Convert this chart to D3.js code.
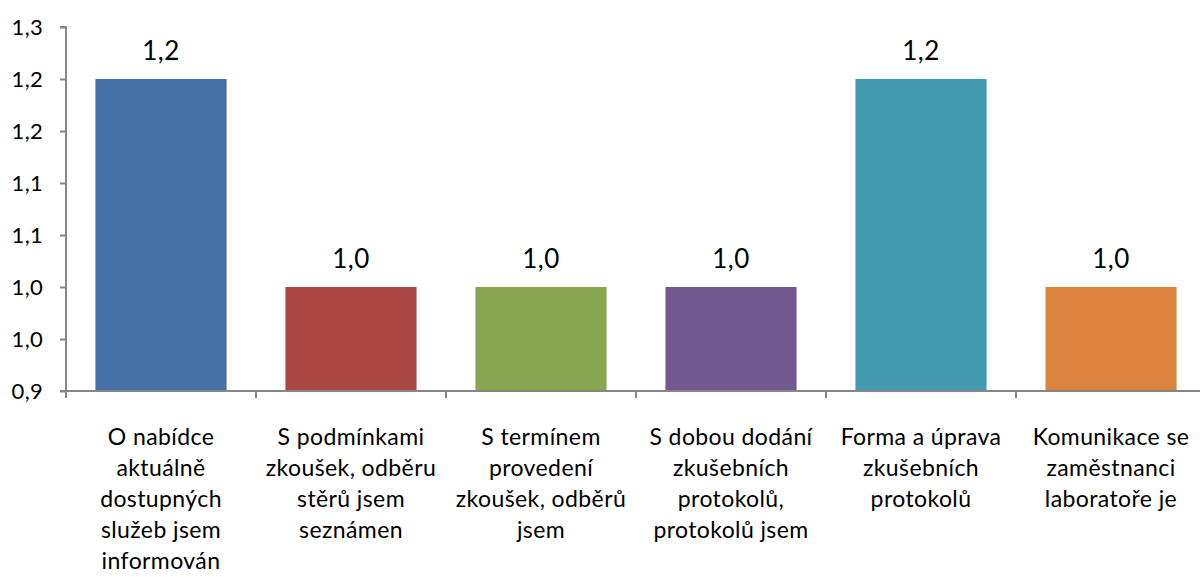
<!DOCTYPE html>
<html>
<head>
<meta charset="utf-8">
<script src="https://cdn.jsdelivr.net/npm/d3@7"></script>
<style>
  body { margin: 0; background: #fff; }
  svg text { font-family: Lato, "Open Sans", sans-serif; fill: #000; }
</style>
</head>
<body>
<div id="chart"></div>
<script>
const width = 1200;
const height = 577;

// data
const categories = [
    ["O nabídce", "aktuálně", "dostupných", "služeb jsem", "informován"],
    ["S podmínkami", "zkoušek, odběru", "stěrů jsem", "seznámen"],
    ["S termínem", "provedení", "zkoušek, odběrů", "jsem"],
    ["S dobou dodání", "zkušebních", "protokolů,", "protokolů jsem"],
    ["Forma a úprava", "zkušebních", "protokolů"],
    ["Komunikace se", "zaměstnanci", "laboratoře je"]
];
const values = [1.2, 1.0, 1.0, 1.0, 1.2, 1.0];
const valueLabels = ["1,2", "1,0", "1,0", "1,0", "1,2", "1,0"];
const colors = ["#4671a6", "#a84744", "#88a54f", "#71598f", "#4299b0", "#db843d"];
const yTicks = [0.9, 0.95, 1.0, 1.05, 1.1, 1.15, 1.2, 1.25];
const yTickLabels = ["0,9", "1,0", "1,0", "1,1", "1,1", "1,2", "1,2", "1,3"];

const svg = d3.select("#chart")
    .append("svg")
    .attr("width", width)
    .attr("height", height);

const x = d3.scaleBand()
    .domain(d3.range(categories.length))
    .range([66, 1206])
    .paddingInner(0.31)
    .paddingOuter(0.155);

const y = d3.scaleLinear()
    .domain([0.9, 1.25])
    .range([391, 27]);

// bars
svg.append("g")
    .selectAll("rect")
    .data(values)
    .enter()
    .append("rect")
    .attr("x", (d, i) => x(i))
    .attr("y", d => y(d))
    .attr("width", x.bandwidth())
    .attr("height", d => y(0.9) - y(d))
    .attr("fill", (d, i) => colors[i]);

// value labels
svg.append("g")
    .selectAll("text")
    .data(values)
    .enter()
    .append("text")
    .attr("x", (d, i) => x(i) + x.bandwidth() / 2)
    .attr("y", d => y(d) - 19)
    .attr("text-anchor", "middle")
    .style("font-size", "26px")
    .style("letter-spacing", "0.5px")
    .text((d, i) => valueLabels[i]);

// y axis
const yAxis = d3.axisLeft(y)
    .tickValues(yTicks)
    .tickSize(6)
    .tickPadding(17)
    .tickFormat((d, i) => yTickLabels[i]);

const gy = svg.append("g")
    .attr("transform", "translate(66,0)")
    .call(yAxis);
gy.select(".domain").attr("stroke", "#868686").attr("stroke-width", 2)
    .attr("d", "M-6," + y(1.25) + "H0V" + y(0.9));
gy.selectAll(".tick line").attr("stroke", "#868686").attr("stroke-width", 2);
gy.selectAll(".tick text")
    .style("font-size", "22px")
    .style("letter-spacing", "0.3px")
    .style("font-family", "Lato, 'Open Sans', sans-serif")
    .attr("fill", "#000");

// x axis
const step = x.step();
const bandEdges = d3.range(categories.length + 1).map(i => 66 + i * step);

svg.append("line")
    .attr("x1", 60)
    .attr("x2", width)
    .attr("y1", y(0.9))
    .attr("y2", y(0.9))
    .attr("stroke", "#868686")
    .attr("stroke-width", 2);

svg.append("g")
    .selectAll("line")
    .data(bandEdges)
    .enter()
    .append("line")
    .attr("x1", d => d)
    .attr("x2", d => d)
    .attr("y1", y(0.9))
    .attr("y2", y(0.9) + 7)
    .attr("stroke", "#868686")
    .attr("stroke-width", 2);

// category labels
const labels = svg.append("g")
    .selectAll("text")
    .data(categories)
    .enter()
    .append("text")
    .attr("x", (d, i) => x(i) + x.bandwidth() / 2)
    .attr("y", 445)
    .attr("text-anchor", "middle")
    .style("font-size", "23px")
    .style("letter-spacing", "0.4px");

labels.selectAll("tspan")
    .data(d => d)
    .enter()
    .append("tspan")
    .attr("x", function () { return d3.select(this.parentNode).attr("x"); })
    .attr("dy", (d, i) => i === 0 ? 0 : 31)
    .text(d => d);
</script>
</body>
</html>
